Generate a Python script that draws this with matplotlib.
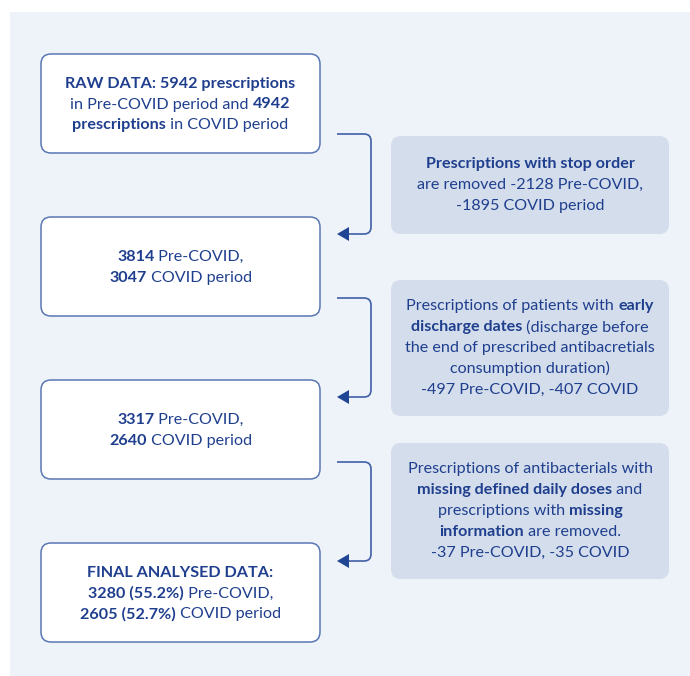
import matplotlib
matplotlib.use("Agg")
import matplotlib.pyplot as plt
from matplotlib.patches import FancyBboxPatch, PathPatch, Polygon, Rectangle
from matplotlib.path import Path

W, H = 690, 676
BG = "#eef3f9"
BORDER = "#5a77b4"
SIDE_FILL = "#d3ddeb"
TEXT = "#1f3f8e"
LINK = "#3f5fa6"
ARROW = "#1f4594"
FONT = "Lato"
FS = 11.6
LINE_H = 20.8

# step boxes: lines of (text, bold) runs
step_lines = [
    [[("RAW DATA: 5942 prescriptions", True)],
     [("in Pre-COVID period and ", False), ("4942", True)],
     [("prescriptions", True), (" in COVID period", False)]],
    [[("3814", True), (" Pre-COVID,", False)],
     [("3047", True), (" COVID period", False)]],
    [[("3317", True), (" Pre-COVID,", False)],
     [("2640", True), (" COVID period", False)]],
    [[("FINAL ANALYSED DATA:", True)],
     [("3280 (55.2%)", True), (" Pre-COVID,", False)],
     [("2605 (52.7%)", True), (" COVID period", False)]],
]

# exclusion boxes
excl_lines = [
    [[("Prescriptions with stop order", True)],
     [("are removed -2128 Pre-COVID,", False)],
     [("-1895 COVID period", False)]],
    [[("Prescriptions of patients with ", False), ("early", True)],
     [("discharge dates", True), (" (discharge before", False)],
     [("the end of prescribed antibacretials", False)],
     [("consumption duration)", False)],
     [("-497 Pre-COVID, -407 COVID", False)]],
    [[("Prescriptions of antibacterials with", False)],
     [("missing defined daily doses", True), (" and", False)],
     [("prescriptions with ", False), ("missing", True)],
     [("information", True), (" are removed.", False)],
     [("-37 Pre-COVID, -35 COVID", False)]],
]

step_boxes = [(41, 54, 279, 99), (41, 217, 279, 99), (41, 380, 279, 99), (41, 543, 279, 99)]
excl_boxes = [(391, 136, 278, 98), (391, 280, 278, 136), (391, 443, 278, 136)]
links = [(134, 234), (298, 397), (462, 561)]


def text_width(fig, renderer, s, bold):
    t = fig.text(0, 0, s, fontsize=FS, family=FONT, fontweight="bold" if bold else "normal")
    w = t.get_window_extent(renderer).width
    t.remove()
    return w


def draw_lines(ax, fig, renderer, cx, cy, lines):
    y0 = cy - (len(lines) - 1) * LINE_H / 2
    for i, runs in enumerate(lines):
        widths = [text_width(fig, renderer, s, b) for s, b in runs]
        x = cx - sum(widths) / 2
        for (s, b), w in zip(runs, widths):
            ax.text(x, y0 + i * LINE_H, s, fontsize=FS, family=FONT, color=TEXT,
                    fontweight="bold" if b else "normal", ha="left", va="center")
            x += w


fig = plt.figure(figsize=(W / 100, H / 100), dpi=100)
ax = fig.add_axes([0, 0, 1, 1])
ax.set_xlim(0, W)
ax.set_ylim(H, 0)
ax.axis("off")
renderer = fig.canvas.get_renderer()

ax.add_patch(Rectangle((10, 12), W - 10, H - 12, facecolor=BG, edgecolor="none"))

for (x, y, w, h), lines in zip(step_boxes, step_lines):
    ax.add_patch(FancyBboxPatch((x, y), w, h, boxstyle="round,pad=0,rounding_size=10",
                                facecolor="white", edgecolor=BORDER, linewidth=1.1))
    draw_lines(ax, fig, renderer, x + w / 2, y + h / 2 + 1, lines)

for (x, y, w, h), lines in zip(excl_boxes, excl_lines):
    ax.add_patch(FancyBboxPatch((x, y), w, h, boxstyle="round,pad=0,rounding_size=10",
                                facecolor=SIDE_FILL, edgecolor="none"))
    draw_lines(ax, fig, renderer, x + w / 2, y + h / 2, lines)

xl, xr, r = 337, 371, 7
for y1, y2 in links:
    verts = [(xl, y1), (xr - r, y1), (xr, y1), (xr, y1 + r), (xr, y2 - r), (xr, y2),
             (xr - r, y2), (xl + 10, y2)]
    codes = [Path.MOVETO, Path.LINETO, Path.CURVE3, Path.CURVE3, Path.LINETO,
             Path.CURVE3, Path.CURVE3, Path.LINETO]
    ax.add_patch(PathPatch(Path(verts, codes), facecolor="none", edgecolor=LINK, linewidth=1.2))
    ax.add_patch(Polygon([(xl, y2), (xl + 12, y2 - 7), (xl + 12, y2 + 7)], closed=True,
                         facecolor=ARROW, edgecolor="none"))

fig.savefig("out.png", dpi=100)
